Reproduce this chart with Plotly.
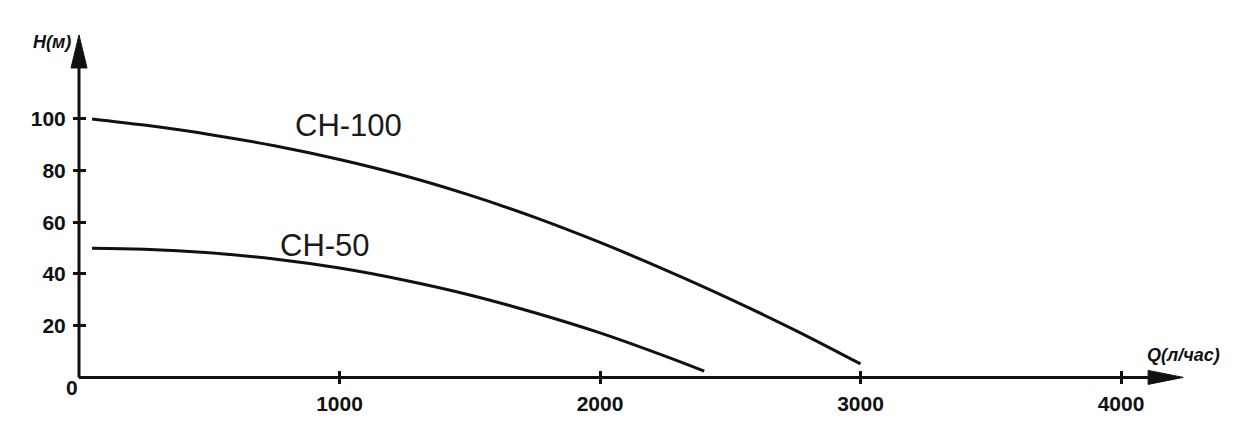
import plotly.graph_objects as go

# ---- data ----
q_ch100 = [50, 250, 500, 750, 1000, 1250, 1500, 1750, 2000, 2250, 2500, 2750, 3000]
h_ch100 = [100, 97.6, 94.0, 89.6, 84.3, 78.0, 70.5, 61.9, 52.2, 41.6, 30.3, 18.2, 5.2]

q_ch50 = [50, 250, 500, 750, 1000, 1250, 1500, 1750, 2000, 2250, 2400]
h_ch50 = [50, 49.6, 48.2, 45.8, 42.3, 37.6, 31.9, 25.0, 17.2, 8.2, 2.4]

x_ticks = [1000, 2000, 3000, 4000]
y_ticks = [20, 40, 60, 80, 100]
series_names = ["CH-100", "CH-50"]
label_pos = [(1036, 97.3), (944, 51.0)]

x_title = "Q(л/час)"
y_title = "H(м)"

# ---- geometry (page body has an 8px margin) ----
W, H = 1240, 413
X_RANGE = [-272.6, 4487.5]
Y_RANGE = [-16.87, 142.9]
X_ARROW_BASE = 4104
Y_ARROW_BASE = 119.7

def xfrac(v):
    return (v - X_RANGE[0]) / (X_RANGE[1] - X_RANGE[0])

def yfrac(v):
    return (v - Y_RANGE[0]) / (Y_RANGE[1] - Y_RANGE[0])

FONT = "Liberation Sans, Arial, sans-serif"
INK = "#111111"

fig = go.Figure()
fig.add_trace(go.Scatter(x=q_ch100, y=h_ch100, mode="lines", line=dict(color=INK, width=3, shape="spline"),
                         name=series_names[0], hoverinfo="skip"))
fig.add_trace(go.Scatter(x=q_ch50, y=h_ch50, mode="lines", line=dict(color=INK, width=3, shape="spline"),
                         name=series_names[1], hoverinfo="skip"))
fig.add_trace(go.Scatter(x=[None], y=[None], xaxis="x2", yaxis="y2", showlegend=False))

tickfont = dict(family=FONT, size=21, color=INK, weight="bold")
common = dict(showgrid=False, zeroline=False, showline=False, automargin=False)

fig.update_layout(
    width=W, height=H,
    margin=dict(l=0, r=0, t=0, b=0),
    paper_bgcolor="white", plot_bgcolor="white",
    showlegend=False,
    xaxis=dict(range=X_RANGE, domain=[0, 1], anchor="free", position=yfrac(0),
               tickmode="array", tickvals=x_ticks, ticktext=[str(v) for v in x_ticks],
               ticks="outside", ticklen=6, tickwidth=3, tickcolor=INK,
               tickfont=tickfont, ticklabelstandoff=1, **common),
    xaxis2=dict(range=X_RANGE, domain=[0, 1], overlaying="x", anchor="free", position=yfrac(0),
                tickmode="array", tickvals=x_ticks, showticklabels=False,
                ticks="inside", ticklen=6, tickwidth=3, tickcolor=INK, **common),
    yaxis=dict(range=Y_RANGE, domain=[0, 1], anchor="free", position=xfrac(0),
               tickmode="array", tickvals=y_ticks, ticktext=[str(v) for v in y_ticks],
               ticks="outside", ticklen=6, tickwidth=3, tickcolor=INK,
               tickfont=tickfont, ticklabelstandoff=3, **common),
    yaxis2=dict(range=Y_RANGE, domain=[0, 1], overlaying="y", anchor="free", position=xfrac(0),
                tickmode="array", tickvals=y_ticks, showticklabels=False,
                ticks="inside", ticklen=6, tickwidth=3, tickcolor=INK, **common),
)

# axis lines
fig.add_shape(type="line", xref="x", yref="y", x0=0, x1=X_ARROW_BASE, y0=0, y1=0,
              line=dict(color=INK, width=3))
fig.add_shape(type="line", xref="x", yref="y", x0=0, x1=0, y0=0, y1=Y_ARROW_BASE,
              line=dict(color=INK, width=3))
# arrow heads
fig.add_shape(type="path", xref="x", yref="y", xsizemode="pixel", ysizemode="pixel",
              xanchor=X_ARROW_BASE, yanchor=0, path="M 0,-7 L 0,7 L 35,0 Z",
              fillcolor=INK, line=dict(color=INK, width=1))
fig.add_shape(type="path", xref="x", yref="y", xsizemode="pixel", ysizemode="pixel",
              xanchor=0, yanchor=Y_ARROW_BASE, path="M -8,0 L 8,0 L 0,33 Z",
              fillcolor=INK, line=dict(color=INK, width=1))

# origin label
fig.add_annotation(x=0, y=0, xref="x", yref="y", text="0", showarrow=False,
                   xanchor="center", yanchor="middle", xshift=-7.5, yshift=-10,
                   font=dict(family=FONT, size=21, color=INK, weight="bold"))
# axis titles
fig.add_annotation(x=0, y=Y_ARROW_BASE, xref="x", yref="y", text=y_title, showarrow=False,
                   xanchor="center", yanchor="middle", xshift=-27, yshift=26,
                   font=dict(family=FONT, size=18, color=INK, style="italic", weight="bold"))
fig.add_annotation(x=X_ARROW_BASE, y=0, xref="x", yref="y", text=x_title, showarrow=False,
                   xanchor="center", yanchor="middle", xshift=35, yshift=22,
                   font=dict(family=FONT, size=18, color=INK, style="italic", weight="bold"))
# series labels
for name, (lx, ly) in zip(series_names, label_pos):
    fig.add_annotation(x=lx, y=ly, xref="x", yref="y", text=name, showarrow=False,
                       xanchor="center", yanchor="middle",
                       font=dict(family=FONT, size=31, color="#1a1a1a"))

fig.write_html("out.html")
